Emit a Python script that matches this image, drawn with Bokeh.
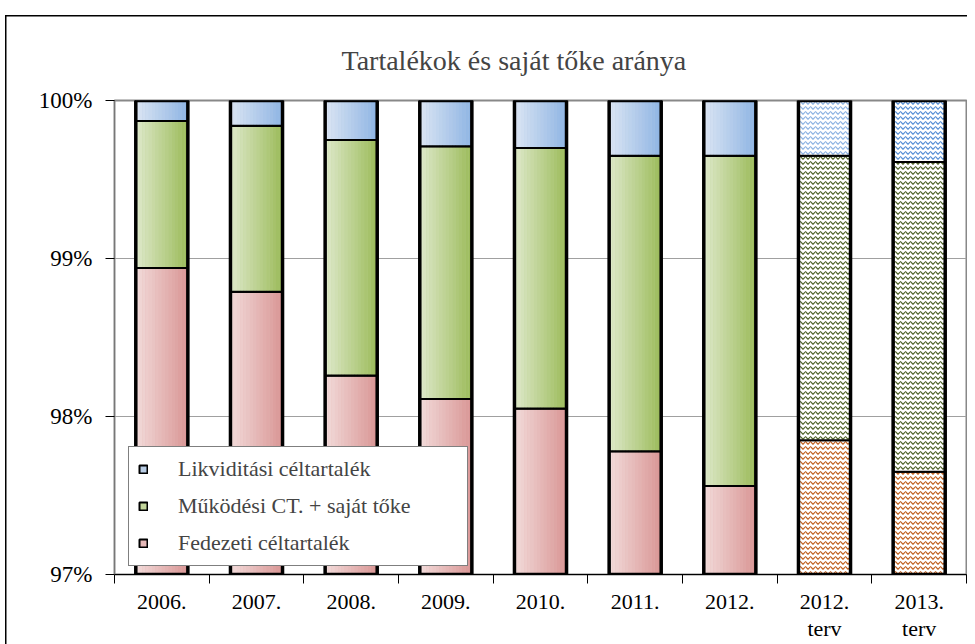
import numpy as np
from bokeh.plotting import figure
from bokeh.models import (FixedTicker, Legend, LegendItem, Range1d)
from bokeh.embed import file_html
from bokeh.resources import INLINE

categories = ["2006.", "2007.", "2008.", "2009.", "2010.", "2011.", "2012.", "2012.\nterv", "2013.\nterv"]
planned = [False, False, False, False, False, False, False, True, True]
fedezeti = [98.94, 98.79, 98.26, 98.11, 98.05, 97.78, 97.56, 97.85, 97.65]
mukodesi = [0.93, 1.05, 1.49, 1.60, 1.65, 1.87, 2.09, 1.80, 1.96]
likviditasi = [0.13, 0.16, 0.25, 0.29, 0.30, 0.35, 0.35, 0.35, 0.39]
y_ticks = [97, 98, 99, 100]
y_tick_labels = ["97%", "98%", "99%", "100%"]
series_names = ["Fedezeti céltartalék", "Működési CT. + saját tőke", "Likviditási céltartalék"]

FONT = "Liberation Serif"
W = 0.55

xs = np.arange(1, len(categories) + 1, dtype=float)
vals = np.array([fedezeti, mukodesi, likviditasi])
tops = np.cumsum(vals, axis=0)
bottoms = tops - vals

grad = [("#f2dcdb", "#d99594"), ("#dfe9cc", "#9bbb59"), ("#dce6f4", "#8eb4e3")]
mid = ["#e6b9b8", "#c3d69b", "#b9cde5"]
hatch_cols = [["#c0601e", "#c0601e"], ["#4f6228", "#4f6228"], ["#8db3e2", "#558ed5"]]

p = figure(width=967, height=644, output_backend="svg", toolbar_location=None,
           x_range=Range1d(0.5, len(categories) + 0.5), y_range=Range1d(97, 100),
           min_border_left=114, min_border_right=1, min_border_top=100, min_border_bottom=60)
p.title.text = "Tartalékok és saját tőke aránya"
p.title.text_font = FONT
p.title.text_font_size = "28px"
p.title.text_font_style = "normal"
p.title.align = "left"
p.title.offset = 227
p.title.standoff = 50
p.border_fill_color = None
p.background_fill_color = "white"
p.styles = {"background": "linear-gradient(#000, #000) 5px 15px / 1.5px 100% no-repeat, "
                          "linear-gradient(#000, #000) 5px 15px / 100% 1.5px no-repeat, white"}
p.outline_line_color = "#888888"
p.outline_line_width = 2
p.xgrid.grid_line_color = None
p.ygrid.grid_line_color = "#a0a0a0"
p.ygrid.grid_line_width = 1

normal = [i for i, pl in enumerate(planned) if not pl]
plan = [i for i, pl in enumerate(planned) if pl]

def hexrgb(h):
    return np.array([int(h[1:3], 16), int(h[3:5], 16), int(h[5:7], 16)], dtype=float)

legend_r = []
N = 16
for s in range(3):
    xn = xs[normal]
    r = p.vbar(x=xn, width=W, bottom=bottoms[s][normal], top=tops[s][normal],
               fill_color=mid[s], line_color="black", line_width=2)
    legend_r.append(r)
    c0, c1 = hexrgb(grad[s][0]), hexrgb(grad[s][1])
    for k in range(N):
        t = (k + 0.5) / N
        c = c0 + (c1 - c0) * t
        col = "#%02x%02x%02x" % tuple(int(round(v)) for v in c)
        p.vbar(x=xn - W / 2 + (k + 0.5) * W / N, width=W / N * 1.05,
               bottom=bottoms[s][normal], top=tops[s][normal],
               fill_color=col, line_color=None)
    for j, i in enumerate(plan):
        p.vbar(x=[xs[i]], width=W, bottom=[bottoms[s][i]], top=[tops[s][i]],
               fill_color="white", line_color=None,
               hatch_pattern="horizontal_wave", hatch_color=hatch_cols[s][j],
               hatch_scale=5, hatch_weight=1.2)
    p.vbar(x=xs, width=W, bottom=bottoms[s], top=tops[s],
           fill_color=None, line_color="black", line_width=2)

p.vbar(x=xs, width=W, bottom=bottoms[0], top=tops[2],
       fill_color=None, line_color="black", line_width=3.5)

p.yaxis.ticker = FixedTicker(ticks=y_ticks)
p.yaxis.major_label_overrides = {t: l for t, l in zip(y_ticks, y_tick_labels)}
p.yaxis.major_label_text_font = FONT
p.yaxis.major_label_text_font_size = "23px"
p.yaxis.major_label_text_color = "black"
p.yaxis.axis_line_color = "#777777"
p.yaxis.major_tick_out = 9
p.yaxis.major_tick_in = 0
p.yaxis.major_tick_line_color = "black"
p.yaxis.minor_tick_line_color = None
p.yaxis.major_label_standoff = 13

p.xaxis.ticker = FixedTicker(ticks=list(xs), minor_ticks=list(np.arange(0.5, len(categories) + 1, 1.0)))
p.xaxis.major_label_overrides = {float(x): c for x, c in zip(xs, categories)}
p.xaxis.major_label_text_font = FONT
p.xaxis.major_label_text_font_size = "22px"
p.xaxis.major_label_text_line_height = 1.1
p.xaxis.major_label_text_color = "black"
p.xaxis.major_tick_out = 0
p.xaxis.major_tick_in = 0
p.xaxis.minor_tick_out = 9
p.xaxis.minor_tick_in = 0
p.xaxis.minor_tick_line_color = "black"
p.xaxis.axis_line_color = "black"
p.xaxis.major_label_standoff = 5

legend = Legend(items=[LegendItem(label=series_names[2], renderers=[legend_r[2]]),
                       LegendItem(label=series_names[1], renderers=[legend_r[1]]),
                       LegendItem(label=series_names[0], renderers=[legend_r[0]])],
                location=(14, 8))
legend.label_text_font = FONT
legend.label_text_font_size = "22px"
legend.glyph_width = 10
legend.glyph_height = 10
legend.label_height = 23
legend.spacing = 11
legend.padding = 9
legend.label_standoff = 30
legend.label_width = 280
legend.border_line_color = "black"
legend.border_line_width = 1
legend.background_fill_alpha = 1
p.add_layout(legend, "center")

open("out.html", "w").write(file_html(p, INLINE))
